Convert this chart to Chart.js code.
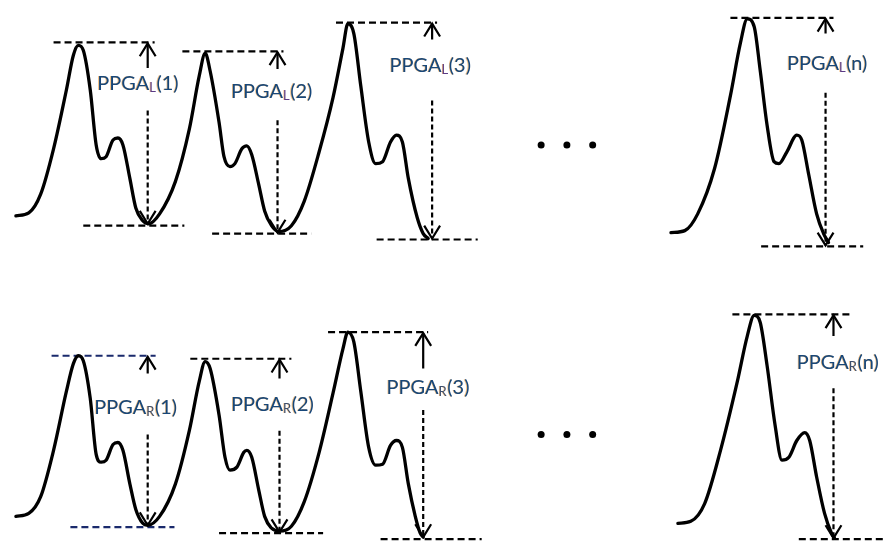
<!DOCTYPE html>
<html><head><meta charset="utf-8">
<script src="https://cdn.jsdelivr.net/npm/chart.js@4.4.1/dist/chart.umd.min.js"></script>
<style>html,body{margin:0;padding:0;background:#fff;}canvas{display:block;}</style>
</head><body>
<canvas id="c" width="891" height="546"></canvas>
<script>
// ---- Data (x: time units, y: amplitude, screen-down) ----
const topWave = [[12,215],[25,212],[37,193],[50,147],[63,87],[70,52],[75,42],[80,47],[87,87],[93,143],[98,157],[103,155],[110,138],[115,136],[120,143],[127,177],[133,207],[140,220],[146,223],[157,213],[173,180],[187,127],[197,73],[203,50],[208,68],[217,120],[222,155],[228,165],[233,162],[240,147],[245,144],[250,153],[257,183],[263,210],[270,225],[277,231],[290,225],[303,200],[318,150],[332,95],[342,45],[347,20],[353,30],[360,83],[368,140],[375,162],[382,160],[390,140],[396,133],[402,140],[408,177],[417,217],[423,233],[428,238]];
const topWaveN = [[673,232],[687,230],[700,213],[717,167],[733,93],[743,40],[750,15],[757,23],[763,67],[770,123],[777,160],[782,162],[790,150],[800,133],[805,138],[812,173],[820,213],[827,233],[832,242]];
const bottomWave = [[12,520],[25,517],[37,500],[50,453],[63,393],[70,365],[75,357],[80,362],[87,400],[93,457],[98,465],[103,463],[110,447],[115,445],[120,453],[127,487],[133,513],[140,527],[145,529],[157,520],[173,487],[187,433],[197,383],[203,363],[208,370],[217,417],[223,460],[228,473],[235,470],[242,455],[245,453],[250,460],[257,493],[263,520],[270,532],[278,535],[290,530],[303,505],[318,455],[332,395],[342,350],[347,333],[353,343],[360,393],[368,450],[375,468],[382,467],[390,448],[396,443],[402,450],[408,487],[415,520],[420,537],[423,541]];
const bottomWaveN = [[680,527],[693,525],[707,507],[723,453],[740,383],[750,337],[757,316],[763,323],[770,367],[778,427],[785,463],[792,460],[800,443],[808,435],[813,443],[820,480],[828,517],[835,537],[838,542]];

// level lines: [xStart, xEnd, y]
const topLevels = [[50,152,39],[80,182,225],[180,282,48],[210,310,233],[335,437,19],[376,478,239],[733,837,14],[764,867,246]];
const bottomLevels = [[48,153,357],[67,172,531],[188,290,360],[217,322,537],[327,428,333],[380,482,543],[735,857,315],[802,890,543]];
const bottomLevelColors = ['#1a2a6c','#1a2a6c','#000','#000','#000','#000','#000','#000'];

// arrows: [x, top, upperShaftEnd, lowerShaftStart, bottom]
const topArrows = [[145,40,65,108,223],[276,49,66,118,232],[432,20,36,98,238],[829,15,30,90,245]];
const bottomArrows = [[145,358,375,437,529],[278,361,380,433,536],[423,334,370,412,541],[837,316,337,390,542]];

const labelIndex = ['1','2','3','n'];
const topLabelPos = [[94,87],[229,95],[389,69],[790,67]];
const bottomLabelPos = [[91,416],[229,413],[386,396],[800,370]];
const dotsX = [542,568,594];
const dotsY = [143,437];

// ---- Build datasets ----
const ds = [];
const pts = a => a.map(p => ({x:p[0], y:p[1]}));
[topWave, topWaveN, bottomWave, bottomWaveN].forEach(w => ds.push({
  data: pts(w), showLine:true, borderColor:'#000', borderWidth:3.3, pointRadius:0,
  cubicInterpolationMode:'monotone', clip:false, borderCapStyle:'round', borderJoinStyle:'round'
}));
function level(l, color){
  ds.push({data:[{x:l[0],y:l[2]},{x:l[1],y:l[2]}], showLine:true, borderColor:color, borderWidth:2.2,
    borderDash:[7,4], pointRadius:0, tension:0, clip:false});
}
topLevels.forEach(l => level(l,'#000'));
bottomLevels.forEach((l,i) => level(l,bottomLevelColors[i]));
function arrow(a){
  const [x,t,ue,ls,b] = a;
  const common = {showLine:true, borderColor:'#000', borderWidth:2.2, pointRadius:0, tension:0, clip:false};
  ds.push(Object.assign({data:[{x:x-8,y:t+13},{x:x,y:t},{x:x+8,y:t+13}]}, common));
  ds.push(Object.assign({data:[{x:x,y:t},{x:x,y:ue}]}, common));
  ds.push(Object.assign({data:[{x:x,y:ls},{x:x,y:b}], borderDash:[5,3]}, common));
  ds.push(Object.assign({data:[{x:x-8,y:b-13},{x:x,y:b},{x:x+8,y:b-13}]}, common));
}
topArrows.forEach(arrow);
bottomArrows.forEach(arrow);
const dots = [];
dotsY.forEach(y => dotsX.forEach(x => dots.push({x, y})));
ds.push({data:dots, showLine:false, pointRadius:3.5, pointBackgroundColor:'#000', pointBorderWidth:0, clip:false});

const labelPlugin = {
  id:'labels',
  afterDatasetsDraw(chart){
    const ctx = chart.ctx, xs = chart.scales.x, ys = chart.scales.y;
    function draw(pos, sub, subColor){
      pos.forEach((p,i) => {
        let px = xs.getPixelForValue(p[0]), py = ys.getPixelForValue(p[1]);
        ctx.save();
        ctx.textBaseline = 'alphabetic'; ctx.textAlign = 'left';
        ctx.shadowColor = 'rgba(235,150,50,0.6)'; ctx.shadowOffsetX = -0.8; ctx.shadowBlur = 0.6;
        ctx.font = '20px Lato, "Open Sans", sans-serif';
        ctx.fillStyle = '#17477a';
        ctx.fillText('PPGA', px, py); px += ctx.measureText('PPGA').width;
        ctx.font = '13px Lato, "Open Sans", sans-serif';
        ctx.fillStyle = subColor;
        ctx.fillText(sub, px, py + 2); px += ctx.measureText(sub).width + 0.5;
        ctx.font = '20px Lato, "Open Sans", sans-serif';
        ctx.fillStyle = '#17477a';
        ctx.fillText('(' + labelIndex[i] + ')', px, py);
        ctx.restore();
      });
    }
    draw(topLabelPos, 'L', '#5a3a86');
    draw(bottomLabelPos, 'R', '#3d4f6e');
  }
};

new Chart(document.getElementById('c'), {
  type:'scatter',
  data:{datasets:ds},
  options:{
    responsive:false, animation:false, devicePixelRatio:1,
    layout:{padding:0},
    plugins:{legend:{display:false}, tooltip:{enabled:false}},
    scales:{
      x:{type:'linear', min:0, max:891, display:false},
      y:{type:'linear', min:0, max:546, reverse:true, display:false}
    }
  },
  plugins:[labelPlugin]
});
</script>
</body></html>
